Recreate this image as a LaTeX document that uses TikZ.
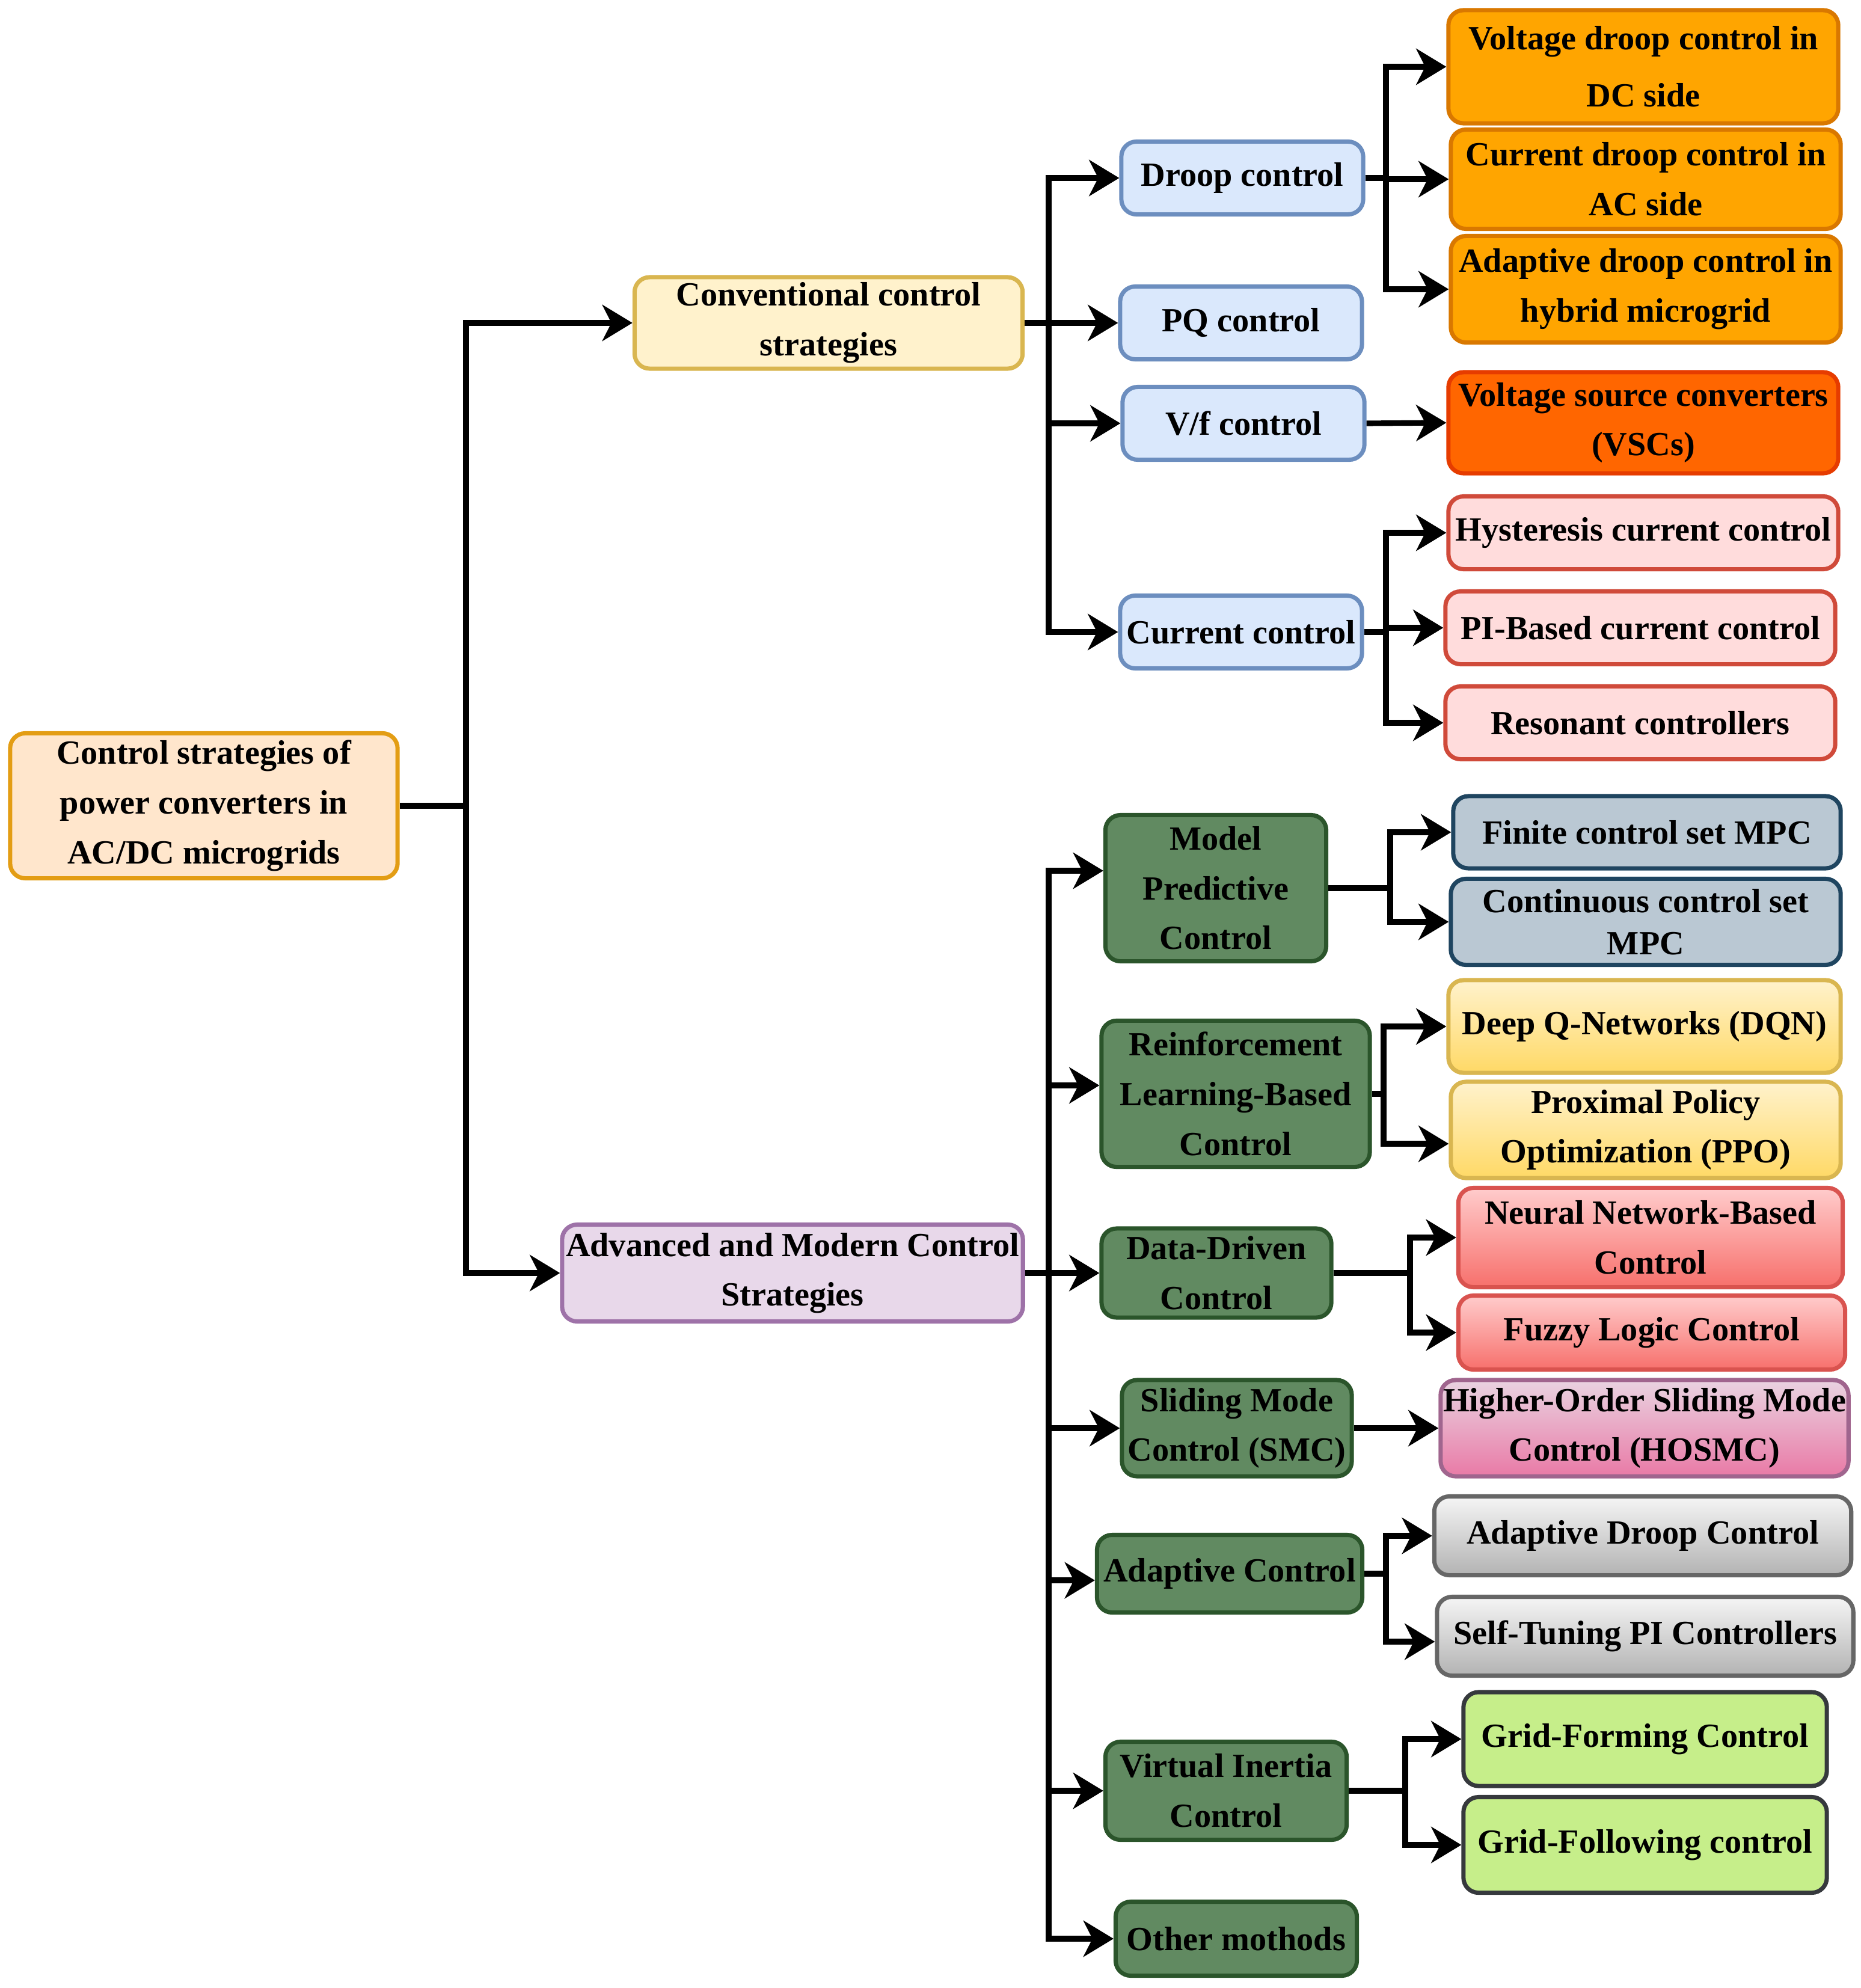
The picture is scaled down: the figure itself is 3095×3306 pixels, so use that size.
\documentclass[tikz,border=0pt]{standalone}
\usepackage{fontspec}
\setmainfont{Liberation Serif}
\usetikzlibrary{arrows.meta}

\definecolor{rootfill}{HTML}{FFE6CC}
\definecolor{rootline}{HTML}{E39D14}
\definecolor{convfill}{HTML}{FFF2CC}
\definecolor{convline}{HTML}{D9B650}
\definecolor{advfill}{HTML}{E8D8EA}
\definecolor{advline}{HTML}{9E72A8}
\definecolor{bluefill}{HTML}{DAE8FC}
\definecolor{blueline}{HTML}{6C8EBF}
\definecolor{orgfill}{HTML}{FFA500}
\definecolor{orgline}{HTML}{D97800}
\definecolor{vscfill}{HTML}{FF6600}
\definecolor{vscline}{HTML}{E63C00}
\definecolor{lredfill}{HTML}{FFDCDC}
\definecolor{lredline}{HTML}{D04A3A}
\definecolor{greenfill}{HTML}{618A61}
\definecolor{greenline}{HTML}{2B552B}
\definecolor{steelfill}{HTML}{BAC8D3}
\definecolor{steelline}{HTML}{1F4560}
\definecolor{yeltop}{HTML}{FFF2CC}
\definecolor{yelbot}{HTML}{FFD966}
\definecolor{redtop}{HTML}{FFCCCC}
\definecolor{redbot}{HTML}{F7706C}
\definecolor{redline}{HTML}{D9534F}
\definecolor{pinktop}{HTML}{E9D3E1}
\definecolor{pinkbot}{HTML}{E97AA6}
\definecolor{pinkline}{HTML}{A0658E}
\definecolor{greytop}{HTML}{F5F5F5}
\definecolor{greybot}{HTML}{B3B3B3}
\definecolor{greyline}{HTML}{666666}
\definecolor{limefill}{HTML}{C6EE8A}
\definecolor{limeline}{HTML}{36393D}

\begin{document}
\begin{tikzpicture}[x=0.01cm,y=-0.01cm,
    cbox/.style={draw,rounded corners=0.25cm,line width=2pt,align=center,inner sep=1pt,
        font=\fontsize{16}{23.5}\selectfont\bfseries},
    rootbox/.style={cbox,fill=rootfill,draw=rootline},
    convbox/.style={cbox,fill=convfill,draw=convline},
    advbox/.style={cbox,fill=advfill,draw=advline},
    bluebox/.style={cbox,fill=bluefill,draw=blueline,minimum width=4.02cm,minimum height=1.21cm},
    orgbox/.style={cbox,fill=orgfill,draw=orgline,minimum width=6.48cm},
    vscbox/.style={cbox,fill=vscfill,draw=vscline,minimum width=6.48cm},
    lredbox/.style={cbox,fill=lredfill,draw=lredline,minimum width=6.48cm,minimum height=1.21cm},
    greenbox/.style={cbox,fill=greenfill,draw=greenline},
    steelbox/.style={cbox,fill=steelfill,draw=steelline},
    yelbox/.style={cbox,top color=yeltop,bottom color=yelbot,draw=convline},
    redbox/.style={cbox,top color=redtop,bottom color=redbot,draw=redline},
    pinkbox/.style={cbox,top color=pinktop,bottom color=pinkbot,draw=pinkline},
    greybox/.style={cbox,top color=greytop,bottom color=greybot,draw=greyline},
    limebox/.style={cbox,fill=limefill,draw=limeline,minimum width=6.04cm},
    arr/.style={line width=2.6pt,-{Stealth[length=0.5cm,width=0.6cm,inset=0.15cm]}}
    ]
\useasboundingbox (0,0) rectangle (3095,3306);

\node[rootbox,minimum width=6.44cm,minimum height=2.41cm] (root) at (339,1340) {Control strategies of\\power converters in\\AC/DC microgrids};
\node[convbox,minimum width=6.45cm,minimum height=1.52cm] (conv) at (1378,537) {Conventional control\\strategies};
\node[advbox,minimum width=7.66cm,minimum height=1.61cm] (adv) at (1318,2117) {Advanced and Modern Control\\Strategies};

% conventional
\node[bluebox] (droop) at (2066,296) {Droop control};
\node[bluebox] (pq) at (2064,537) {PQ control};
\node[bluebox] (vf) at (2068,704) {V/f control};
\node[bluebox] (cur) at (2064,1051) {Current control};

\node[orgbox,minimum height=1.88cm,font=\fontsize{16}{27}\selectfont\bfseries] (vdc) at (2733,111) {Voltage droop control in\\DC side};
\node[orgbox,minimum height=1.65cm] (iac) at (2737,298) {Current droop control in\\AC side};
\node[orgbox,minimum height=1.77cm] (adroop) at (2737,481) {Adaptive droop control in\\hybrid microgrid};
\node[vscbox,minimum height=1.68cm] (vsc) at (2733,703) {Voltage source converters\\(VSCs)};
\node[lredbox] (hys) at (2733,886) {Hysteresis current control};
\node[lredbox] (pib) at (2728,1044) {PI-Based current control};
\node[lredbox] (res) at (2728,1202) {Resonant controllers};

% advanced
\node[greenbox,minimum width=3.67cm,minimum height=2.43cm] (mpc) at (2022,1477) {Model\\Predictive\\Control};
\node[greenbox,minimum width=4.46cm,minimum height=2.43cm] (rl) at (2055,1819) {Reinforcement\\Learning-Based\\Control};
\node[greenbox,minimum width=3.82cm,minimum height=1.48cm] (dd) at (2023,2117) {Data-Driven\\Control};
\node[greenbox,minimum width=3.82cm,minimum height=1.60cm] (smc) at (2057,2375) {Sliding Mode\\Control (SMC)};
\node[greenbox,minimum width=4.41cm,minimum height=1.29cm] (ac) at (2045,2617) {Adaptive Control};
\node[greenbox,minimum width=4.01cm,minimum height=1.63cm] (vi) at (2039,2978) {Virtual Inertia\\Control};
\node[greenbox,minimum width=4.01cm,minimum height=1.23cm] (oth) at (2056,3224) {Other mothods};

\node[steelbox,minimum width=6.44cm,minimum height=1.20cm] (fcs) at (2739,1384) {Finite control set MPC};
\node[steelbox,minimum width=6.48cm,minimum height=1.43cm,font=\fontsize{16}{20}\selectfont\bfseries] (ccs) at (2737,1533) {Continuous control set\\MPC};
\node[yelbox,minimum width=6.52cm,minimum height=1.54cm] (dqn) at (2735,1707) {Deep Q-Networks (DQN)};
\node[yelbox,minimum width=6.48cm,minimum height=1.60cm] (ppo) at (2737,1879) {Proximal Policy\\Optimization (PPO)};
\node[redbox,minimum width=6.39cm,minimum height=1.65cm] (nn) at (2745,2058) {Neural Network-Based\\Control};
\node[redbox,minimum width=6.43cm,minimum height=1.23cm] (flc) at (2747,2216) {Fuzzy Logic Control};
\node[pinkbox,minimum width=6.78cm,minimum height=1.60cm] (hosmc) at (2735,2375) {Higher-Order Sliding Mode\\Control (HOSMC)};
\node[greybox,minimum width=6.93cm,minimum height=1.31cm] (adc) at (2732,2554) {Adaptive Droop Control};
\node[greybox,minimum width=6.92cm,minimum height=1.31cm] (stpi) at (2736,2721) {Self-Tuning PI Controllers};
\node[limebox,minimum height=1.56cm] (gfm) at (2736,2892) {Grid-Forming Control};
\node[limebox,minimum height=1.59cm] (gfl) at (2736,3068) {Grid-Following control};

% buses
\coordinate (t0) at (775,0);
\coordinate (t1) at (1744,0);
\coordinate (t2) at (2305,0);
\coordinate (tm) at (2312,0);
\coordinate (tr) at (2301,0);
\coordinate (td) at (2345,0);
\coordinate (tv) at (2337,0);

\foreach \n in {conv,adv}
    \draw[arr] (root.east) -- (root.east -| t0) |- (\n.west);
\foreach \n in {droop,pq,vf,cur}
    \draw[arr] (conv.east) -- (conv.east -| t1) |- (\n.west);
\draw[arr] (adv.east) -- (adv.east -| t1) |- ([yshift=0.29cm]mpc.west);
\draw[arr] (adv.east) -- (adv.east -| t1) |- ([yshift=0.14cm]rl.west);
\draw[arr] (adv.east) -- (adv.east -| t1) |- ([yshift=-0.11cm]ac.west);
\foreach \n in {dd,smc,vi,oth}
    \draw[arr] (adv.east) -- (adv.east -| t1) |- (\n.west);

\foreach \n in {vdc,iac,adroop}
    \draw[arr] (droop.east) -- (droop.east -| t2) |- (\n.west);
\draw[arr] (vf.east) -- (vsc.west);
\foreach \n in {hys,pib,res}
    \draw[arr] (cur.east) -- (cur.east -| t2) |- (\n.west);

\foreach \n in {fcs,ccs}
    \draw[arr] (mpc.east) -- (mpc.east -| tm) |- (\n.west);
\draw[arr] (rl.east) -- (rl.east -| tr) |- (dqn.west);
\draw[arr] (rl.east) -- (rl.east -| tr) |- ([yshift=-0.23cm]ppo.west);
\foreach \n in {nn,flc}
    \draw[arr] (dd.east) -- (dd.east -| td) |- (\n.west);
\draw[arr] (smc.east) -- (hosmc.west);
\draw[arr] (ac.east) -- (ac.east -| t2) |- (adc.west);
\draw[arr] (ac.east) -- (ac.east -| t2) |- ([yshift=-0.09cm]stpi.west);
\foreach \n in {gfm,gfl}
    \draw[arr] (vi.east) -- (vi.east -| tv) |- (\n.west);
\end{tikzpicture}
\end{document}
